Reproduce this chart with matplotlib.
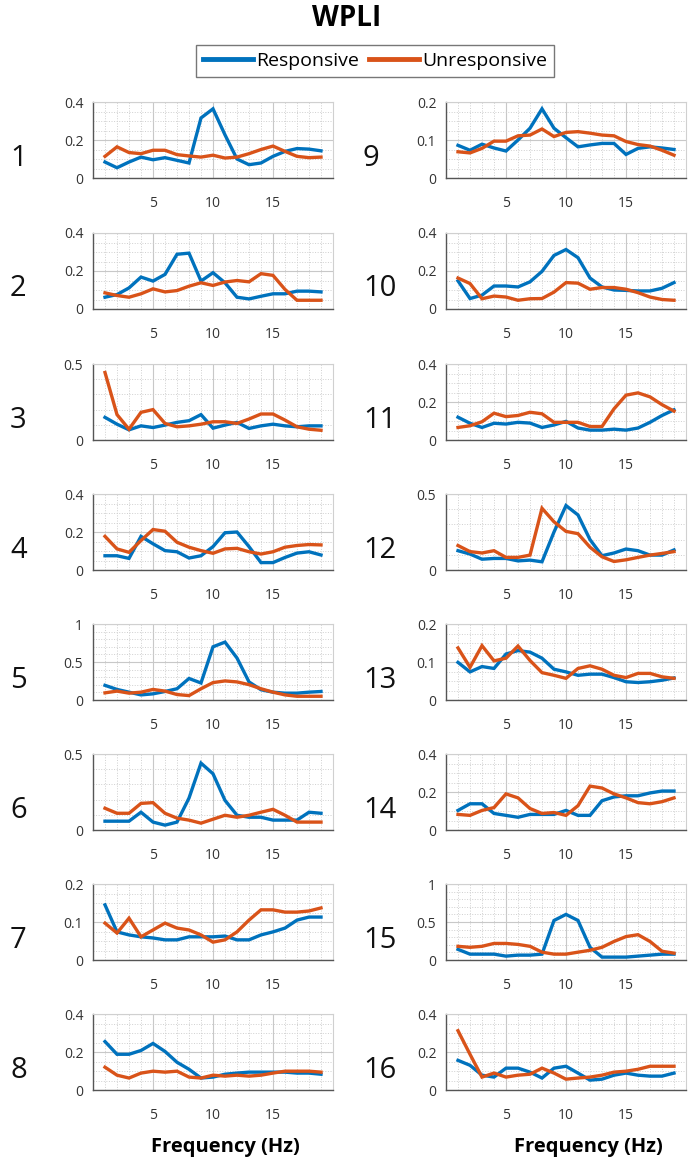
import matplotlib.pyplot as plt
from matplotlib.lines import Line2D
from matplotlib.ticker import MultipleLocator

# Frequências (Hz)
freq = list(range(1, 20))

# Coluna esquerda (sujeitos 1-8)
s1_resp = [0.084, 0.054, 0.084, 0.11, 0.096, 0.107, 0.093, 0.079, 0.316, 0.364, 0.227, 0.10, 0.07, 0.079, 0.114, 0.14, 0.155, 0.152, 0.143]
s1_unresp = [0.114, 0.164, 0.134, 0.128, 0.146, 0.146, 0.123, 0.116, 0.11, 0.12, 0.105, 0.11, 0.128, 0.15, 0.168, 0.14, 0.114, 0.107, 0.11]
s2_resp = [0.062, 0.076, 0.111, 0.168, 0.147, 0.182, 0.288, 0.294, 0.147, 0.191, 0.138, 0.062, 0.053, 0.067, 0.08, 0.08, 0.094, 0.094, 0.09]
s2_unresp = [0.085, 0.071, 0.062, 0.08, 0.106, 0.09, 0.097, 0.12, 0.138, 0.124, 0.142, 0.15, 0.143, 0.186, 0.177, 0.103, 0.046, 0.046, 0.046]
s3_resp = [0.149, 0.104, 0.067, 0.093, 0.082, 0.098, 0.116, 0.127, 0.167, 0.078, 0.098, 0.116, 0.076, 0.093, 0.104, 0.093, 0.087, 0.093, 0.093]
s3_unresp = [0.444, 0.167, 0.071, 0.182, 0.2, 0.109, 0.087, 0.093, 0.104, 0.12, 0.12, 0.109, 0.138, 0.171, 0.171, 0.131, 0.087, 0.071, 0.064]
s4_resp = [0.075, 0.075, 0.061, 0.177, 0.138, 0.102, 0.096, 0.063, 0.075, 0.123, 0.196, 0.2, 0.123, 0.039, 0.039, 0.066, 0.089, 0.096, 0.079]
s4_unresp = [0.177, 0.111, 0.093, 0.155, 0.213, 0.204, 0.146, 0.12, 0.102, 0.088, 0.111, 0.114, 0.096, 0.084, 0.096, 0.12, 0.129, 0.134, 0.132]
s5_resp = [0.193, 0.139, 0.103, 0.067, 0.081, 0.112, 0.148, 0.283, 0.224, 0.70, 0.762, 0.552, 0.238, 0.135, 0.103, 0.09, 0.09, 0.103, 0.112]
s5_unresp = [0.094, 0.117, 0.09, 0.103, 0.139, 0.117, 0.072, 0.058, 0.148, 0.229, 0.251, 0.238, 0.202, 0.148, 0.103, 0.067, 0.049, 0.049, 0.049]
s6_resp = [0.058, 0.058, 0.058, 0.117, 0.052, 0.032, 0.052, 0.21, 0.44, 0.37, 0.195, 0.097, 0.084, 0.084, 0.065, 0.065, 0.065, 0.117, 0.11]
s6_unresp = [0.143, 0.11, 0.11, 0.175, 0.18, 0.11, 0.078, 0.065, 0.045, 0.071, 0.097, 0.084, 0.097, 0.117, 0.136, 0.097, 0.052, 0.052, 0.052]
s7_resp = [0.145, 0.074, 0.066, 0.061, 0.058, 0.053, 0.053, 0.061, 0.061, 0.061, 0.063, 0.053, 0.053, 0.066, 0.074, 0.084, 0.105, 0.113, 0.113]
s7_unresp = [0.097, 0.071, 0.11, 0.061, 0.079, 0.097, 0.084, 0.079, 0.066, 0.047, 0.053, 0.074, 0.105, 0.132, 0.132, 0.126, 0.126, 0.129, 0.137]
s8_resp = [0.255, 0.188, 0.188, 0.208, 0.245, 0.203, 0.146, 0.109, 0.063, 0.068, 0.083, 0.089, 0.094, 0.094, 0.094, 0.094, 0.089, 0.089, 0.083]
s8_unresp = [0.12, 0.078, 0.063, 0.089, 0.099, 0.094, 0.099, 0.068, 0.063, 0.078, 0.073, 0.078, 0.073, 0.078, 0.089, 0.099, 0.099, 0.099, 0.094]

# Coluna direita (sujeitos 9-16)
s9_resp = [0.086, 0.073, 0.089, 0.079, 0.071, 0.10, 0.131, 0.182, 0.131, 0.106, 0.082, 0.087, 0.091, 0.091, 0.062, 0.078, 0.082, 0.079, 0.075]
s9_unresp = [0.069, 0.066, 0.078, 0.097, 0.097, 0.111, 0.113, 0.129, 0.109, 0.12, 0.122, 0.118, 0.113, 0.111, 0.096, 0.088, 0.084, 0.073, 0.06]
s10_resp = [0.148, 0.055, 0.073, 0.121, 0.121, 0.116, 0.143, 0.198, 0.282, 0.313, 0.27, 0.163, 0.116, 0.10, 0.098, 0.095, 0.095, 0.109, 0.139]
s10_unresp = [0.163, 0.134, 0.054, 0.068, 0.063, 0.046, 0.054, 0.055, 0.089, 0.139, 0.136, 0.104, 0.113, 0.113, 0.104, 0.086, 0.063, 0.05, 0.046]
s11_resp = [0.12, 0.088, 0.066, 0.088, 0.084, 0.093, 0.089, 0.066, 0.079, 0.098, 0.063, 0.052, 0.052, 0.057, 0.052, 0.063, 0.093, 0.129, 0.159]
s11_unresp = [0.066, 0.075, 0.096, 0.141, 0.123, 0.129, 0.146, 0.138, 0.093, 0.093, 0.093, 0.071, 0.071, 0.164, 0.236, 0.248, 0.227, 0.186, 0.152]
s12_resp = [0.127, 0.105, 0.071, 0.076, 0.076, 0.06, 0.065, 0.054, 0.25, 0.424, 0.362, 0.20, 0.094, 0.112, 0.138, 0.127, 0.098, 0.098, 0.132]
s12_unresp = [0.161, 0.121, 0.112, 0.127, 0.083, 0.083, 0.098, 0.406, 0.317, 0.254, 0.239, 0.15, 0.087, 0.056, 0.067, 0.083, 0.098, 0.109, 0.121]
s13_resp = [0.099, 0.074, 0.088, 0.083, 0.121, 0.13, 0.126, 0.11, 0.081, 0.074, 0.065, 0.068, 0.068, 0.059, 0.048, 0.046, 0.048, 0.052, 0.058]
s13_unresp = [0.137, 0.086, 0.143, 0.103, 0.11, 0.142, 0.104, 0.072, 0.065, 0.057, 0.083, 0.09, 0.081, 0.065, 0.059, 0.07, 0.07, 0.061, 0.057]
s14_resp = [0.103, 0.138, 0.138, 0.087, 0.077, 0.067, 0.082, 0.082, 0.082, 0.103, 0.077, 0.077, 0.154, 0.174, 0.18, 0.18, 0.195, 0.205, 0.205]
s14_unresp = [0.082, 0.077, 0.103, 0.118, 0.19, 0.169, 0.113, 0.087, 0.092, 0.077, 0.128, 0.231, 0.221, 0.19, 0.169, 0.144, 0.138, 0.149, 0.169]
s15_resp = [0.14, 0.077, 0.077, 0.077, 0.051, 0.064, 0.064, 0.077, 0.52, 0.60, 0.52, 0.167, 0.038, 0.038, 0.038, 0.051, 0.064, 0.077, 0.077]
s15_unresp = [0.18, 0.167, 0.18, 0.218, 0.218, 0.205, 0.18, 0.103, 0.077, 0.077, 0.103, 0.128, 0.167, 0.244, 0.308, 0.333, 0.244, 0.115, 0.09]
s16_resp = [0.156, 0.13, 0.078, 0.068, 0.115, 0.115, 0.094, 0.063, 0.115, 0.125, 0.089, 0.052, 0.057, 0.078, 0.089, 0.078, 0.073, 0.073, 0.089]
s16_unresp = [0.312, 0.188, 0.068, 0.089, 0.068, 0.078, 0.083, 0.115, 0.089, 0.057, 0.063, 0.068, 0.078, 0.094, 0.099, 0.109, 0.125, 0.125, 0.125]

# Limite superior do eixo y de cada painel
ymax_esq = [0.4, 0.4, 0.5, 0.4, 1, 0.5, 0.2, 0.4]
ymax_dir = [0.2, 0.4, 0.4, 0.5, 0.2, 0.4, 1, 0.4]

resp_esq = [s1_resp, s2_resp, s3_resp, s4_resp, s5_resp, s6_resp, s7_resp, s8_resp]
unresp_esq = [s1_unresp, s2_unresp, s3_unresp, s4_unresp, s5_unresp, s6_unresp, s7_unresp, s8_unresp]
resp_dir = [s9_resp, s10_resp, s11_resp, s12_resp, s13_resp, s14_resp, s15_resp, s16_resp]
unresp_dir = [s9_unresp, s10_unresp, s11_unresp, s12_unresp, s13_unresp, s14_unresp, s15_unresp, s16_unresp]

azul = '#0072BD'
laranja = '#D95319'
plt.rcParams['font.family'] = ['Open Sans', 'DejaVu Sans']

W, H = 694, 1162
fig = plt.figure(figsize=(W / 100, H / 100), dpi=100)

topos = [102, 233, 364, 494, 624, 754, 884, 1014]
alt = 76
larg = 240


def ticks_y(ymax):
    if ymax == 0.4:
        return [0, 0.2, 0.4], 0.05
    if ymax == 0.2:
        return [0, 0.1, 0.2], 0.025
    if ymax == 0.5:
        return [0, 0.5], 0.1
    return [0, 0.5, 1], 0.1


def painel(x0, topo, resp, unresp, ymax, numero, xnum):
    ax = fig.add_axes([x0 / W, 1 - (topo + alt) / H, larg / W, alt / H])
    ax.plot(freq, resp, color=azul, lw=2.4, solid_joinstyle='miter')
    ax.plot(freq, unresp, color=laranja, lw=2.4, solid_joinstyle='miter')
    ax.set_xlim(0, 20)
    ax.set_ylim(0, ymax)
    maj, mnr = ticks_y(ymax)
    ax.set_yticks(maj)
    ax.set_yticklabels(['%g' % v for v in maj])
    ax.yaxis.set_minor_locator(MultipleLocator(mnr))
    ax.set_xticks([5, 10, 15])
    ax.xaxis.set_minor_locator(MultipleLocator(1))
    ax.grid(True, which='major', color='#c8c8c8', lw=0.8)
    ax.grid(True, which='minor', color='#cfcfcf', lw=0.7, linestyle=':')
    ax.set_axisbelow(True)
    for s in ['top', 'right']:
        ax.spines[s].set_color('#d0d0d0')
        ax.spines[s].set_linewidth(0.8)
    for s in ['left', 'bottom']:
        ax.spines[s].set_color('#555555')
        ax.spines[s].set_linewidth(1.0)
    ax.tick_params(axis='both', which='both', length=0, labelsize=10, colors='#333333')
    ax.tick_params(axis='x', pad=13)
    ax.tick_params(axis='y', pad=7)
    fig.text(xnum / W, 1 - (topo + alt - 20) / H, str(numero), fontsize=21,
             ha='left', va='center', color='#111111')
    return ax


for i in range(8):
    painel(93, topos[i], resp_esq[i], unresp_esq[i], ymax_esq[i], i + 1, 10)
    painel(446, topos[i], resp_dir[i], unresp_dir[i], ymax_dir[i], i + 9, 363)

# Título e legenda
fig.text(0.5, 1 - 19 / H, 'WPLI', fontsize=20, fontweight='bold', ha='center', va='center')
handles = [Line2D([], [], color=azul, lw=3.5), Line2D([], [], color=laranja, lw=3.5)]
leg = fig.legend(handles, ['Responsive', 'Unresponsive'], loc='upper center',
                 bbox_to_anchor=(375 / W, 1 - 45 / H), ncol=2, fontsize=14,
                 frameon=True, fancybox=False, edgecolor='#555555',
                 handlelength=2.6, handletextpad=0.15, columnspacing=0.5,
                 borderpad=0.35, borderaxespad=0)
leg.get_frame().set_linewidth(1.0)

# Rótulos do eixo x
fig.text(225 / W, 1 - 1147 / H, 'Frequency (Hz)', fontsize=14.5, fontweight='bold',
         ha='center', va='center')
fig.text(588 / W, 1 - 1147 / H, 'Frequency (Hz)', fontsize=14.5, fontweight='bold',
         ha='center', va='center')

plt.savefig('out.png', dpi=100)
plt.close()
